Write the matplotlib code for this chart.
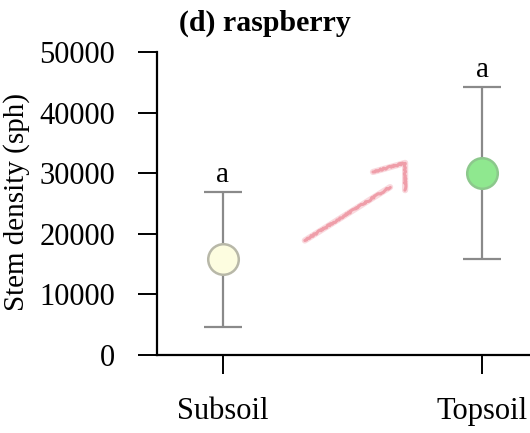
import numpy as np
import matplotlib
matplotlib.use("Agg")
import matplotlib.pyplot as plt

plt.rcParams['font.family'] = ['Liberation Serif', 'DejaVu Serif']

groups = ['Subsoil', 'Topsoil']
means = [15800, 30000]
errs = [11100, 14200]
letters = ['a', 'a']
fills = ['#fdfde0', '#8fe88f']
edges = ['#b8b8a8', '#8cc88c']

# hand-drawn arrow between the two groups (data coords)
arrow_x = [0.316, 0.645]
arrow_y = [18900, 27700]
hook_x = [0.579, 0.703, 0.703]
hook_y = [30200, 31700, 27200]

fig = plt.figure(figsize=(5.3, 4.33), dpi=100)
ax = fig.add_axes([0.296, 0.180, 0.704, 0.700])

x = np.arange(len(groups))
for i in range(len(groups)):
    ax.errorbar(x[i], means[i], yerr=errs[i], fmt='none', ecolor='#8a8a8a',
                elinewidth=1.6, capsize=14, capthick=1.6, zorder=2)
    ax.plot(x[i], means[i], 'o', ms=22, mfc=fills[i], mec=edges[i], mew=1.8, zorder=3)
    ax.annotate(letters[i], (x[i], means[i] + errs[i]), xytext=(0, 3),
                textcoords='offset points', ha='center', va='bottom', fontsize=21)

# soft wide stroke plus a rough thin one for the pencil look
for lw, alpha, sketch in [(4.5, 0.22, None), (2.2, 0.45, (0.8, 4, 6))]:
    for xs, ys in [(arrow_x, arrow_y), (hook_x, hook_y)]:
        ln, = ax.plot(xs, ys, color='#e4566a', lw=lw, alpha=alpha,
                      solid_capstyle='round', solid_joinstyle='round')
        if sketch:
            ln.set_sketch_params(*sketch)

ax.set_xlim(-0.255, 1.185)
ax.set_ylim(0, 50000)
ax.set_xticks(x)
ax.set_xticklabels(groups)
ax.set_yticks([0, 10000, 20000, 30000, 40000, 50000])

for s in ['top', 'right']:
    ax.spines[s].set_visible(False)
for s in ['left', 'bottom']:
    ax.spines[s].set_linewidth(1.6)
ax.tick_params(direction='out', length=14, width=1.4, labelsize=22, pad=16)

ax.set_ylabel('Stem density (sph)', fontsize=21)
ax.yaxis.set_label_coords(-0.34, 0.505)

fig.text(0.5, 0.947, '(d) raspberry', ha='center', va='center',
         fontsize=21.5, fontweight='bold')

fig.savefig('out.png', dpi=100)
